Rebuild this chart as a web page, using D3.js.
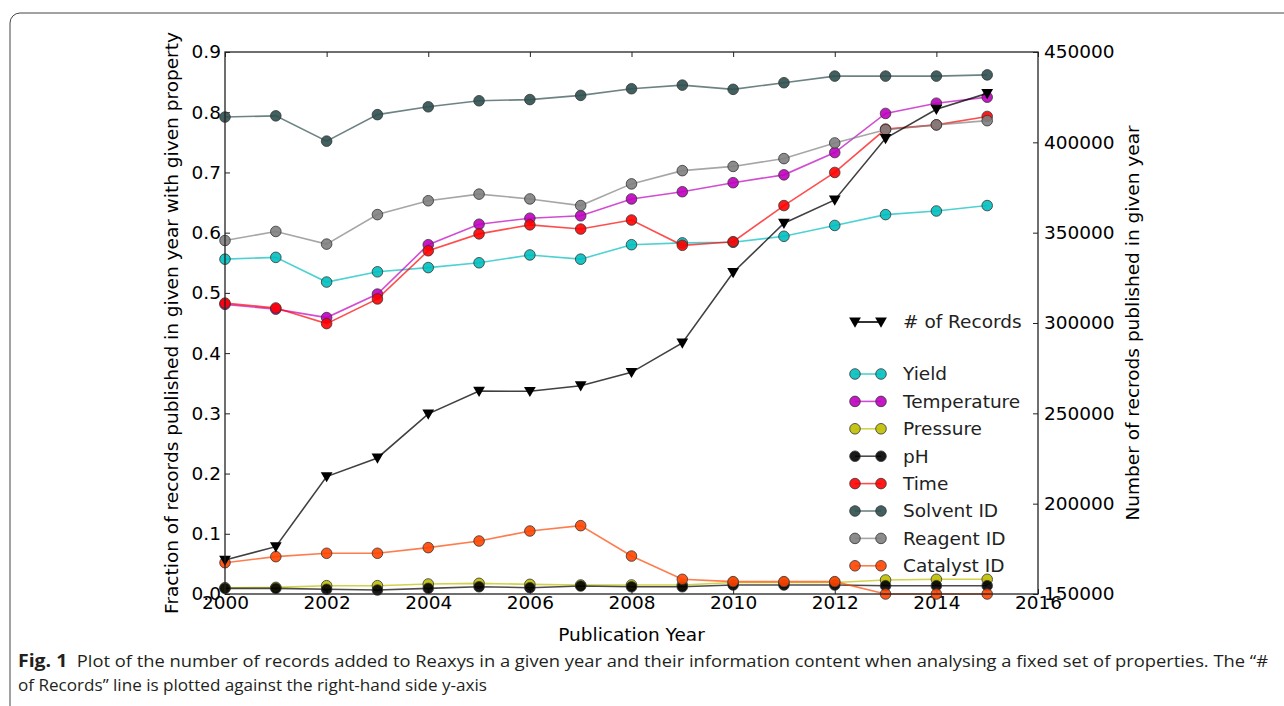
<!DOCTYPE html>
<html>
<head>
<meta charset="utf-8">
<script src="https://cdn.jsdelivr.net/npm/d3@7"></script>
<style>
  body { margin: 0; background: #fff; }
  svg { display: block; }
  .tick text { font-family: "DejaVu Sans", sans-serif; font-size: 18.5px; fill: #000; }
  .tick line { stroke: #222; }
</style>
</head>
<body>
<div id="chart"></div>
<script>
const years = d3.range(2000, 2016);

const records = [168800, 176200, 215000, 225300, 249700, 262300, 262200, 265300,
  272700, 289000, 328000, 355200, 368100, 402200, 418300, 427100];

const yieldVals = [0.556, 0.559, 0.518, 0.535, 0.542, 0.550, 0.563, 0.556,
  0.580, 0.583, 0.584, 0.594, 0.612, 0.630, 0.636, 0.645];
const temperature = [0.481, 0.473, 0.459, 0.498, 0.580, 0.614, 0.624, 0.628,
  0.656, 0.668, 0.683, 0.696, 0.733, 0.798, 0.815, 0.825];
const pressure = [0.0105, 0.011, 0.0138, 0.0138, 0.0166, 0.0177, 0.016, 0.015,
  0.015, 0.015, 0.019, 0.019, 0.019, 0.0233, 0.0244, 0.0244];
const pH = [0.0094, 0.0094, 0.0078, 0.0066, 0.0094, 0.012, 0.0105, 0.0133,
  0.012, 0.012, 0.015, 0.015, 0.015, 0.0138, 0.0138, 0.0138];
const time = [0.483, 0.475, 0.449, 0.490, 0.570, 0.598, 0.613, 0.606,
  0.621, 0.579, 0.585, 0.645, 0.700, 0.772, 0.779, 0.793];
const solventId = [0.792, 0.794, 0.752, 0.796, 0.809, 0.819, 0.821, 0.828,
  0.839, 0.845, 0.838, 0.849, 0.860, 0.860, 0.860, 0.862];
const reagentId = [0.587, 0.602, 0.581, 0.630, 0.653, 0.664, 0.656, 0.645,
  0.681, 0.703, 0.710, 0.723, 0.749, 0.771, 0.779, 0.786];
const catalystId = [0.052, 0.062, 0.0676, 0.0676, 0.077, 0.088, 0.1046, 0.1135,
  0.063, 0.0244, 0.0205, 0.0205, 0.0205, 0, 0, 0];

const seriesNames = ["Yield", "Temperature", "Pressure", "pH", "Time", "Solvent ID", "Reagent ID", "Catalyst ID"];
const seriesColors = ["#00bfbf", "#bf00bf", "#bfbf00", "#000000", "#ff0000", "#2f4f4f", "#808080", "#ff4500"];
const seriesValues = [yieldVals, temperature, pressure, pH, time, solventId, reagentId, catalystId];

const leftTicks = [0.0, 0.1, 0.2, 0.3, 0.4, 0.5, 0.6, 0.7, 0.8, 0.9];
const rightTicks = [150000, 200000, 250000, 300000, 350000, 400000, 450000];
const xTicks = [2000, 2002, 2004, 2006, 2008, 2010, 2012, 2014, 2016];

const W = 1284, H = 706;
const pL = 225, pR = 1038, pT = 52, pB = 594;
const fs = 18.5;

const x = d3.scaleLinear().domain([2000, 2016]).range([pL, pR]);
const y = d3.scaleLinear().domain([0, 0.9]).range([pB, pT]);
const yR = d3.scaleLinear().domain([150000, 450000]).range([pB, pT]);

const svg = d3.select("#chart").append("svg")
  .attr("width", W).attr("height", H);

// outer figure box
svg.append("rect")
  .attr("x", 10).attr("y", 13)
  .attr("width", W + 20).attr("height", H + 20)
  .attr("rx", 10)
  .attr("fill", "none").attr("stroke", "#444").attr("stroke-width", 1);

// axes, ticks pointing inward
const gx = svg.append("g").attr("transform", `translate(0,${pB})`)
  .call(d3.axisBottom(x).tickValues(xTicks).tickFormat(d3.format("d")).tickSize(-5).tickSizeOuter(0).tickPadding(2));
const gxTop = svg.append("g").attr("transform", `translate(0,${pT})`)
  .call(d3.axisTop(x).tickValues(xTicks).tickFormat("").tickSize(-5).tickSizeOuter(0));
const gy = svg.append("g").attr("transform", `translate(${pL},0)`)
  .call(d3.axisLeft(y).tickValues(leftTicks).tickFormat(d3.format(".1f")).tickSize(-5).tickSizeOuter(0).tickPadding(4));
const gyR = svg.append("g").attr("transform", `translate(${pR},0)`)
  .call(d3.axisRight(yR).tickValues(rightTicks).tickFormat(d3.format("d")).tickSize(-5).tickSizeOuter(0).tickPadding(6));
[gx, gxTop, gy, gyR].forEach(g => g.select(".domain").remove());

// series lines + markers
const line = d3.line().x((d, i) => x(years[i])).y(d => y(d));

seriesValues.forEach((vals, k) => {
  const g = svg.append("g");
  g.append("path")
    .datum(vals)
    .attr("d", line)
    .attr("fill", "none")
    .attr("stroke", seriesColors[k])
    .attr("stroke-opacity", 0.7)
    .attr("stroke-width", 1.6);
  g.selectAll("circle")
    .data(vals)
    .enter()
    .append("circle")
    .attr("cx", (d, i) => x(years[i]))
    .attr("cy", d => y(d))
    .attr("r", 5.3)
    .attr("fill", seriesColors[k])
    .attr("fill-opacity", 0.9)
    .attr("stroke", "#333")
    .attr("stroke-width", 0.8);
});

// records line on the right axis
const tri = d3.symbol().type(d3.symbolTriangle).size(60);
const lineR = d3.line().x((d, i) => x(years[i])).y(d => yR(d));
svg.append("path")
  .datum(records)
  .attr("d", lineR)
  .attr("fill", "none")
  .attr("stroke", "#000")
  .attr("stroke-opacity", 0.75)
  .attr("stroke-width", 1.6);
svg.selectAll(".rec")
  .data(records)
  .enter()
  .append("path")
  .attr("class", "rec")
  .attr("d", tri)
  .attr("transform", (d, i) => `translate(${x(years[i])},${yR(d) - 1}) rotate(180)`)
  .attr("fill", "#000");

// frame
svg.append("rect")
  .attr("x", pL).attr("y", pT)
  .attr("width", pR - pL).attr("height", pB - pT)
  .attr("fill", "none").attr("stroke", "#222").attr("stroke-width", 1.3);

// legend
const legend = svg.append("g").attr("font-family", "DejaVu Sans, sans-serif").attr("font-size", fs);
const lx0 = 855, lx1 = 881, ltx = 903;

const recRow = legend.append("g").attr("transform", "translate(0,322)");
recRow.append("line").attr("x1", lx0).attr("x2", lx1).attr("stroke", "#000").attr("stroke-width", 1.6);
[lx0, lx1].forEach(px => recRow.append("path").attr("d", tri)
  .attr("transform", `translate(${px},-1) rotate(180)`).attr("fill", "#000"));
recRow.append("text").attr("x", ltx).attr("dy", "0.35em").attr("fill", "#222").text("# of Records");

seriesNames.forEach((name, k) => {
  const row = legend.append("g").attr("transform", `translate(0,${374 + k * 27.4})`);
  row.append("line").attr("x1", lx0).attr("x2", lx1)
    .attr("stroke", seriesColors[k]).attr("stroke-opacity", 0.7).attr("stroke-width", 1.6);
  [lx0, lx1].forEach(px => row.append("circle").attr("cx", px).attr("r", 5.3)
    .attr("fill", seriesColors[k]).attr("fill-opacity", 0.9)
    .attr("stroke", "#333").attr("stroke-width", 0.8));
  row.append("text").attr("x", ltx).attr("dy", "0.35em").attr("fill", "#222").text(name);
});

// axis titles
svg.append("text")
  .attr("x", (pL + pR) / 2).attr("y", 641)
  .attr("text-anchor", "middle")
  .attr("font-family", "DejaVu Sans, sans-serif").attr("font-size", fs)
  .text("Publication Year");
svg.append("text")
  .attr("transform", `translate(172,${(pT + pB) / 2}) rotate(-90)`)
  .attr("text-anchor", "middle").attr("dy", "0.35em")
  .attr("font-family", "DejaVu Sans, sans-serif").attr("font-size", fs)
  .text("Fraction of records published in given year with given property");
svg.append("text")
  .attr("transform", `translate(1133,${(pT + pB) / 2}) rotate(-90)`)
  .attr("text-anchor", "middle").attr("dy", "0.35em")
  .attr("font-family", "DejaVu Sans, sans-serif").attr("font-size", fs)
  .text("Number of recrods published in given year");

// caption
const cap1 = svg.append("text")
  .attr("x", 18).attr("y", 667)
  .attr("font-family", "Open Sans, sans-serif").attr("font-size", 16).attr("fill", "#231f20")
  .attr("textLength", 1250).attr("lengthAdjust", "spacingAndGlyphs");
cap1.append("tspan").attr("font-weight", "bold").attr("font-size", 17).text("Fig. 1");
cap1.append("tspan").text("\u00a0\u00a0Plot of the number of records added to Reaxys in a given year and their information content when analysing a fixed set of properties. The \u201c#");
svg.append("text")
  .attr("x", 18).attr("y", 691)
  .attr("font-family", "Open Sans, sans-serif").attr("font-size", 16).attr("fill", "#231f20")
  .attr("textLength", 469).attr("lengthAdjust", "spacingAndGlyphs")
  .text("of Records\u201d line is plotted against the right-hand side y-axis");
</script>
</body>
</html>
